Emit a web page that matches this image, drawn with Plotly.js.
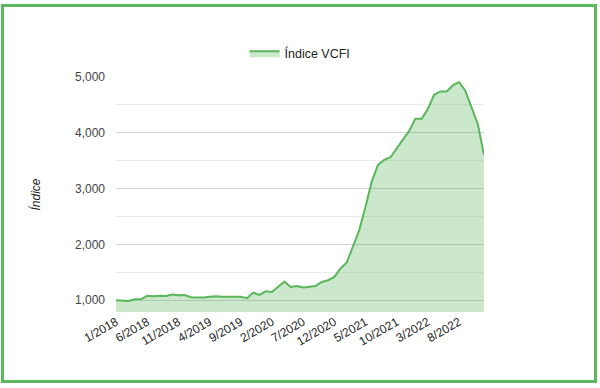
<!DOCTYPE html>
<html>
<head>
<meta charset="utf-8">
<script src="https://cdn.plot.ly/plotly-3.0.1.min.js"></script>
<style>
  html, body { margin: 0; padding: 0; background: #fff; }
  #wrap { position: relative; width: 600px; height: 388px; }
  #chart { width: 600px; height: 388px; }
  #frame { position: absolute; left: 1px; top: 4px; width: 596px; height: 379px;
           box-sizing: border-box; border: 3px solid #5cb85c; pointer-events: none; }
</style>
</head>
<body>
<div id="wrap"><div id="chart"></div><div id="frame"></div></div>
<script>
const months = [
  "1/2018","2/2018","3/2018","4/2018","5/2018","6/2018","7/2018","8/2018","9/2018","10/2018","11/2018","12/2018",
  "1/2019","2/2019","3/2019","4/2019","5/2019","6/2019","7/2019","8/2019","9/2019","10/2019","11/2019","12/2019",
  "1/2020","2/2020","3/2020","4/2020","5/2020","6/2020","7/2020","8/2020","9/2020","10/2020","11/2020","12/2020",
  "1/2021","2/2021","3/2021","4/2021","5/2021","6/2021","7/2021","8/2021","9/2021","10/2021","11/2021","12/2021",
  "1/2022","2/2022","3/2022","4/2022","5/2022","6/2022","7/2022","8/2022","9/2022","10/2022","11/2022","12/2022"
];
const vcfi = [
  1000, 993, 988, 1018, 1018, 1080, 1072, 1080, 1077, 1102, 1090, 1095,
  1054, 1048, 1048, 1063, 1072, 1063, 1063, 1068, 1063, 1036, 1138, 1095,
  1160, 1150, 1240, 1336, 1239, 1257, 1228, 1239, 1257, 1329, 1359, 1418,
  1569, 1677, 1957, 2257, 2676, 3125, 3425, 3514, 3563, 3724, 3874, 4035,
  4251, 4251, 4425, 4682, 4741, 4741, 4849, 4910, 4754, 4443, 4156, 3604
];
const xTicks = ["1/2018","6/2018","11/2018","4/2019","9/2019","2/2020","7/2020","12/2020","5/2021","10/2021","3/2022","8/2022"];
const yTicks = [1000, 2000, 3000, 4000, 5000];
const seriesName = "Índice VCFI";
const yTitle = "Índice";

const font = "'Liberation Sans', Arial, sans-serif";

Plotly.newPlot("chart", [{
  type: "scatter",
  mode: "lines",
  x: months,
  y: vcfi,
  name: seriesName,
  fill: "tozeroy",
  fillcolor: "rgba(76,175,80,0.29)",
  line: { color: "rgb(90,182,90)", width: 2 },
  hoverinfo: "x+y"
}], {
  width: 600, height: 388,
  margin: { l: 116, r: 116, t: 77, b: 76, pad: 0 },
  paper_bgcolor: "#fff", plot_bgcolor: "#fff",
  font: { family: font, size: 12, color: "#444" },
  showlegend: true,
  legend: {
    orientation: "h", x: 0.5, xanchor: "center", y: 1.1, yanchor: "middle",
    font: { family: font, size: 12.5, color: "#222" }, itemwidth: 30
  },
  xaxis: {
    type: "category",
    range: [0, 59],
    tickmode: "array", tickvals: xTicks, ticktext: xTicks,
    tickangle: -30,
    showgrid: false, zeroline: false, showline: false, ticks: "",
    tickfont: { family: font, size: 12, color: "#222" }
  },
  yaxis: {
    range: [790, 5000],
    tickmode: "array", tickvals: yTicks, tickformat: ",d",
    showgrid: true, gridcolor: "#d3d3d3", gridwidth: 1,
    minor: { dtick: 500, tick0: 500, showgrid: true, gridcolor: "#ebebeb", gridwidth: 1 },
    zeroline: false, showline: false, ticks: "",
    ticklabelstandoff: 10,
    tickfont: { family: font, size: 12, color: "#444" },
    title: { text: yTitle, standoff: 31, font: { family: font, size: 12, color: "#222", style: "italic" } }
  }
}, { displayModeBar: false, staticPlot: true });
</script>
</body>
</html>
